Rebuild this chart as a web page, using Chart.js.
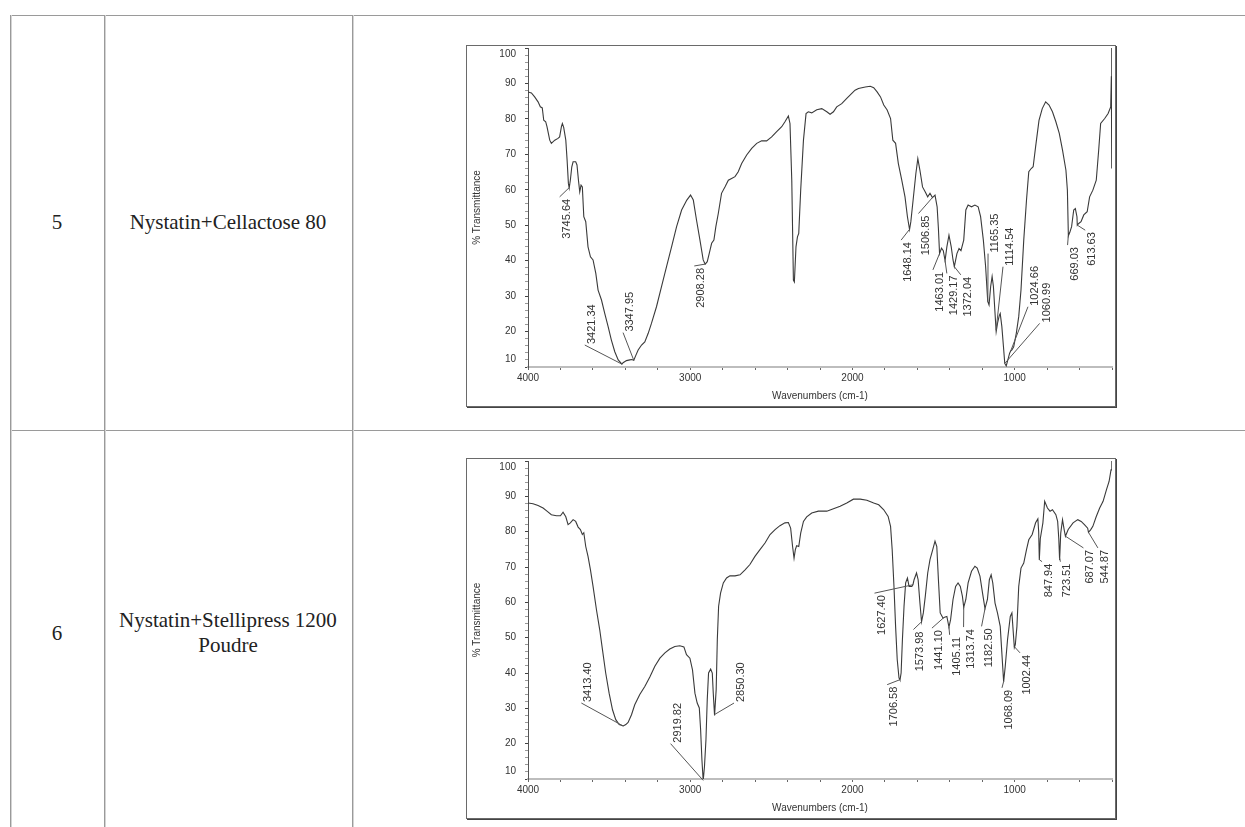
<!DOCTYPE html>
<html>
<head>
<meta charset="utf-8">
<script src="https://cdn.jsdelivr.net/npm/chart.js@4.4.1/dist/chart.umd.min.js"></script>
<style>
  body { margin: 0; width: 1245px; height: 827px; background: #fff; overflow: hidden; position: relative; }
  .hl { position: absolute; left: 10px; right: 0; height: 0; border-top: 1px solid #9a9a9a; }
  .vl { position: absolute; top: 15px; bottom: 0; width: 0; border-left: 1px solid #9a9a9a; box-shadow: 1px 0 0 #d4d4d4; }
  .cell { position: absolute; display: flex; align-items: center; justify-content: center; text-align: center;
          font-family: "Liberation Serif", "Times New Roman", serif; font-size: 21px; line-height: 25px; color: #222; }
  .frame { position: absolute; left: 466px; width: 648px; border: 1px solid #6a6a6a; box-shadow: 1px 1px 0 #444; background: #fff; }
  .frame canvas { display: block; }
</style>
</head>
<body>

<div class="hl" style="top:15px"></div>
<div class="hl" style="top:430px"></div>
<div class="vl" style="left:10px"></div>
<div class="vl" style="left:104px"></div>
<div class="vl" style="left:352px"></div>

<div class="cell" style="left:10px;width:94px;top:15px;height:415px">5</div>
<div class="cell" style="left:104px;width:248px;top:15px;height:415px">Nystatin+Cellactose 80</div>
<div class="cell" style="left:10px;width:94px;top:430px;height:406px">6</div>
<div class="cell" style="left:104px;width:248px;top:430px;height:406px">Nystatin+Stellipress 1200<br>Poudre</div>

<div class="frame" style="top:45px;height:360px"><canvas id="chart5" width="648" height="360"></canvas></div>
<div class="frame" style="top:458px;height:359px"><canvas id="chart6" width="648" height="359"></canvas></div>

<script>
// axis labels
const xTickLabels = [4000, 3000, 2000, 1000];
const yTickLabels = [10, 20, 30, 40, 50, 60, 70, 80, 90, 100];

// spectrum 5 : Nystatin+Cellactose 80
const wavenumbers5 = [4000, 3979, 3959, 3938, 3924, 3912, 3903, 3891, 3883, 3866, 3856, 3835, 3815, 3805, 3794, 3788, 3780, 3767, 3759, 3751,
  3746, 3739, 3730, 3722, 3706, 3698, 3689, 3681, 3673, 3665, 3656, 3644, 3630, 3615, 3599, 3582, 3568, 3547, 3527, 3506,
  3486, 3465, 3444, 3421, 3414, 3393, 3372, 3360, 3348, 3336, 3321, 3300, 3280, 3259, 3239, 3208, 3177, 3146, 3115, 3084,
  3053, 3021, 2998, 2981, 2961, 2940, 2920, 2908, 2895, 2883, 2868, 2854, 2842, 2827, 2807, 2786, 2765, 2745, 2724, 2704,
  2683, 2652, 2621, 2590, 2560, 2529, 2498, 2467, 2436, 2416, 2395, 2385, 2374, 2364, 2358, 2348, 2339, 2331, 2319, 2302,
  2286, 2272, 2251, 2220, 2189, 2158, 2138, 2117, 2097, 2066, 2035, 2004, 1984, 1963, 1921, 1890, 1869, 1848, 1827, 1807,
  1786, 1765, 1751, 1734, 1717, 1696, 1676, 1661, 1648, 1640, 1626, 1609, 1597, 1584, 1568, 1551, 1536, 1522, 1507, 1491,
  1478, 1470, 1463, 1451, 1440, 1429, 1418, 1405, 1391, 1380, 1372, 1356, 1343, 1331, 1314, 1301, 1287, 1266, 1245, 1225,
  1210, 1193, 1179, 1166, 1158, 1148, 1139, 1131, 1121, 1114, 1105, 1095, 1089, 1079, 1069, 1061, 1052, 1042, 1031, 1025,
  1017, 1006, 990, 975, 961, 944, 927, 913, 898, 886, 871, 850, 830, 809, 788, 767, 746, 725, 705, 684,
  675, 669, 660, 649, 636, 626, 616, 614, 605, 591, 574, 553, 538, 518, 497, 482, 470, 445, 424, 408,
  404, 402, 401];
const transmittance5 = [87.6, 87.3, 86.2, 84.8, 83.4, 83.1, 79.6, 79.2, 77.8, 74.0, 73.1, 74.0, 74.5, 74.9, 77.8, 78.7, 77.6, 74.0, 68.4, 61.8,
  60.5, 62.7, 66.5, 67.9, 67.9, 67.0, 62.7, 59.4, 61.3, 60.8, 52.4, 51.0, 43.9, 41.1, 40.2, 36.4, 31.7, 28.9, 25.1, 21.4,
  17.6, 14.3, 12.0, 10.8, 11.2, 11.8, 12.0, 12.1, 11.9, 13.2, 14.8, 16.2, 17.1, 19.5, 22.3, 27.0, 32.7, 38.3, 43.9, 49.6,
  54.3, 57.1, 58.5, 57.1, 51.4, 45.8, 40.2, 39.0, 39.7, 42.0, 44.9, 45.8, 49.6, 53.3, 59.0, 60.8, 62.7, 63.2, 63.7, 65.1,
  67.4, 69.8, 71.7, 73.1, 73.8, 73.8, 74.9, 76.4, 77.8, 79.2, 80.8, 78.7, 62.7, 34.5, 34.0, 43.9, 46.7, 47.7, 59.9, 74.0,
  81.5, 82.0, 81.7, 82.6, 82.9, 82.0, 81.3, 82.0, 83.4, 84.3, 85.8, 87.2, 88.1, 88.6, 89.0, 89.2, 88.8, 87.6, 86.2, 83.9,
  82.5, 80.1, 74.0, 73.1, 67.4, 62.7, 58.0, 52.4, 48.8, 51.0, 57.1, 64.6, 68.8, 65.5, 60.8, 59.4, 58.0, 59.0, 57.8, 58.5,
  55.2, 49.0, 42.0, 43.5, 42.8, 40.0, 43.9, 47.2, 43.9, 40.2, 38.3, 42.0, 43.4, 42.8, 45.8, 54.3, 55.7, 55.2, 55.7, 55.2,
  52.4, 45.8, 38.3, 28.5, 27.5, 32.7, 35.5, 32.7, 25.1, 20.0, 22.5, 24.5, 25.1, 21.4, 15.7, 11.0, 10.3, 12.0, 13.9, 14.5,
  14.8, 15.7, 19.5, 24.2, 31.7, 45.8, 57.1, 65.1, 66.0, 66.5, 72.1, 79.6, 82.9, 84.8, 83.9, 82.0, 79.2, 75.9, 71.2, 65.5,
  59.9, 47.0, 48.0, 49.6, 54.3, 54.7, 52.4, 50.0, 50.5, 51.0, 52.9, 53.8, 58.0, 59.9, 62.7, 71.2, 78.7, 80.1, 81.5, 83.4,
  92.0, 100.0, 66.0];
const peaks5 = ['3745.64', '3421.34', '3347.95', '2908.28', '1648.14', '1506.85', '1463.01', '1429.17', '1372.04',
  '1165.35', '1114.54', '1024.66', '1060.99', '669.03', '613.63'];
const labelWn5 = [3805, 3650, 3414, 2975, 1700, 1593, 1504, 1418, 1332, 1164, 1072, 918, 846, 674, 565];
const labelT5 = [58.0, 16.2, 19.7, 38.5, 45.8, 53.3, 37.4, 36.4, 36.0, 42.0, 38.3, 27.0, 22.3, 44.4, 48.6];

// spectrum 6 : Nystatin+Stellipress 1200 Poudre
const wavenumbers6 = [4000, 3969, 3938, 3907, 3883, 3856, 3825, 3800, 3784, 3767, 3753, 3739, 3722, 3706, 3691, 3677, 3665, 3656, 3644, 3630,
  3615, 3599, 3578, 3558, 3541, 3521, 3500, 3479, 3459, 3438, 3413, 3397, 3383, 3362, 3342, 3311, 3280, 3249, 3218, 3187,
  3156, 3126, 3095, 3064, 3039, 3023, 3002, 2986, 2971, 2957, 2944, 2936, 2928, 2920, 2912, 2903, 2895, 2887, 2874, 2864,
  2858, 2850, 2840, 2833, 2825, 2813, 2796, 2776, 2755, 2724, 2693, 2662, 2632, 2601, 2570, 2539, 2508, 2477, 2447, 2416,
  2395, 2381, 2369, 2360, 2352, 2344, 2331, 2319, 2302, 2282, 2251, 2210, 2158, 2117, 2076, 2035, 1994, 1952, 1911, 1869,
  1838, 1807, 1780, 1765, 1755, 1744, 1734, 1724, 1713, 1707, 1700, 1692, 1682, 1672, 1661, 1651, 1634, 1627, 1620, 1605,
  1595, 1584, 1574, 1563, 1551, 1536, 1522, 1505, 1491, 1480, 1470, 1459, 1447, 1441, 1432, 1418, 1405, 1395, 1380, 1364,
  1349, 1335, 1322, 1314, 1301, 1287, 1266, 1245, 1231, 1214, 1198, 1183, 1168, 1156, 1145, 1135, 1121, 1106, 1089, 1079,
  1068, 1058, 1044, 1027, 1017, 1002, 996, 986, 975, 961, 944, 927, 913, 892, 871, 857, 852, 848, 842, 826,
  815, 798, 782, 767, 746, 735, 728, 723, 716, 705, 695, 687, 670, 640, 611, 590, 570, 550, 545, 532,
  518, 497, 476, 455, 434, 418, 406, 401];
const transmittance6 = [88.1, 87.9, 87.4, 86.7, 85.8, 84.8, 84.5, 84.5, 85.5, 84.2, 82.0, 82.5, 83.4, 82.9, 81.3, 80.6, 79.2, 79.7, 75.8, 73.0,
  69.2, 64.5, 57.9, 52.3, 46.6, 40.0, 34.3, 29.6, 26.8, 25.4, 25.0, 25.4, 26.0, 28.2, 31.0, 33.9, 36.2, 38.9, 41.9, 44.2,
  45.7, 46.8, 47.5, 47.7, 47.4, 45.2, 44.2, 40.9, 34.3, 31.5, 30.1, 24.0, 15.5, 9.5, 13.6, 21.1, 32.5, 40.0, 41.1, 40.0,
  34.3, 28.0, 35.3, 49.4, 58.9, 62.6, 65.5, 66.9, 67.5, 67.5, 67.8, 69.2, 70.7, 73.0, 74.9, 76.8, 79.2, 80.6, 81.7, 82.5,
  82.6, 81.0, 75.8, 72.5, 74.9, 76.0, 75.8, 79.6, 82.9, 84.2, 85.3, 85.8, 85.8, 86.5, 87.2, 88.1, 89.2, 89.2, 88.9, 88.1,
  87.6, 86.2, 84.3, 81.5, 74.9, 64.5, 53.2, 43.8, 38.6, 38.0, 40.0, 49.4, 58.9, 65.5, 66.9, 64.5, 64.5, 65.0, 66.4, 68.3,
  66.4, 59.8, 54.5, 57.0, 61.7, 68.3, 72.1, 74.9, 77.3, 75.8, 66.4, 57.0, 56.0, 55.5, 55.8, 56.0, 53.0, 55.1, 60.8, 64.5,
  65.5, 64.5, 61.7, 58.6, 60.8, 65.5, 68.8, 70.2, 69.7, 67.4, 62.6, 58.2, 60.8, 66.4, 67.8, 65.5, 59.8, 57.0, 53.2, 45.7,
  37.5, 41.9, 49.4, 56.0, 57.0, 47.2, 48.0, 53.2, 64.5, 69.7, 71.1, 74.9, 77.7, 79.2, 82.5, 83.6, 80.0, 72.0, 78.0, 82.5,
  88.6, 86.7, 85.8, 86.2, 84.8, 82.9, 78.0, 72.0, 79.6, 83.4, 80.6, 78.7, 80.6, 82.5, 83.4, 82.9, 82.0, 81.0, 79.8, 80.5,
  81.5, 84.3, 86.7, 88.6, 91.9, 94.2, 97.5, 100.0];
const peaks6 = ['3413.40', '2919.82', '2850.30', '1627.40', '1706.58', '1573.98', '1441.10', '1405.11', '1313.74',
  '1182.50', '1068.09', '1002.44', '847.94', '723.51', '687.07', '544.87'];
const labelWn6 = [3671, 3121, 2730, 1864, 1786, 1624, 1510, 1401, 1315, 1204, 1078, 967, 831, 718, 576, 487];
const labelT6 = [31.5, 20.0, 31.5, 62.6, 36.7, 52.3, 52.7, 50.8, 53.0, 53.2, 35.8, 45.7, 71.5, 71.5, 75.4, 75.4];

const FONT = '"Liberation Sans", Arial, sans-serif';
const INK = '#333';

// value of the spectrum at a wavenumber (arrays run from high to low wavenumber)
function valueAt(wn, tr, w) {
    for (var i = 0; i < wn.length - 1; i++) {
        if (w <= wn[i] && w >= wn[i + 1]) {
            var t = (wn[i] - w) / (wn[i] - wn[i + 1] || 1);
            return tr[i] + t * (tr[i + 1] - tr[i]);
        }
    }
    return tr[tr.length - 1];
}

// y tick labels (kept inside the plot like the instrument software) + peak labels
const peakPlugin = {
    id: 'peaks',
    afterDraw(chart, args, opts) {
        const ctx = chart.ctx;
        const x = chart.scales.x, y = chart.scales.y, area = chart.chartArea;
        ctx.save();
        ctx.fillStyle = INK;
        ctx.font = '10px ' + FONT;
        ctx.textAlign = 'right';
        ctx.textBaseline = 'middle';
        yTickLabels.forEach(function (v) {
            var py = y.getPixelForValue(v);
            py = Math.min(Math.max(py, area.top + 6), area.bottom - 8);
            ctx.fillText(String(v), y.right - 12, py);
        });

        ctx.strokeStyle = '#555';
        ctx.lineWidth = 1;
        ctx.font = '11px ' + FONT;
        opts.peaks.forEach(function (p, i) {
            var w = parseFloat(p);
            var px = x.getPixelForValue(w);
            var py = y.getPixelForValue(valueAt(opts.wn, opts.tr, w));
            var ax = x.getPixelForValue(opts.labelWn[i]);
            var ay = y.getPixelForValue(opts.labelT[i]);
            ctx.beginPath();
            ctx.moveTo(px, py);
            ctx.lineTo(ax, ay);
            ctx.stroke();

            var above = ay < py;
            ctx.save();
            ctx.translate(ax + 7, above ? ay - 1 : ay + 2);
            ctx.rotate(-Math.PI / 2);
            ctx.textAlign = above ? 'left' : 'right';
            ctx.textBaseline = 'middle';
            ctx.fillText(p, 0, 0);
            ctx.restore();
        });
        ctx.restore();
    }
};

function renderSpectrum(id, wn, tr, peaks, labelWn, labelT) {
    const points = wn.map(function (w, i) { return { x: w, y: tr[i] }; });
    new Chart(document.getElementById(id), {
        type: 'line',
        data: {
            datasets: [{
                data: points,
                borderColor: '#3a3a3a',
                borderWidth: 1.1,
                pointRadius: 0,
                tension: 0,
                fill: false
            }]
        },
        options: {
            responsive: false,
            animation: false,
            events: [],
            layout: { padding: { top: 2, right: 3, left: 0, bottom: 0 } },
            plugins: {
                legend: { display: false },
                tooltip: { enabled: false },
                peaks: { peaks: peaks, labelWn: labelWn, labelT: labelT, wn: wn, tr: tr }
            },
            scales: {
                x: {
                    type: 'linear',
                    reverse: true,
                    min: 400,
                    max: 4000,
                    afterFit: function (s) { s.height = 39; },
                    ticks: {
                        stepSize: 200,
                        autoSkip: false,
                        maxRotation: 0,
                        padding: 2,
                        color: INK,
                        font: { family: FONT, size: 10 },
                        callback: function (v) { return xTickLabels.includes(v) ? String(v) : ''; }
                    },
                    grid: { drawOnChartArea: false, drawTicks: true, tickLength: 3, color: '#666' },
                    border: { color: '#bdbdbd', width: 2 },
                    title: { display: true, text: 'Wavenumbers (cm-1)', color: INK, font: { family: FONT, size: 10 }, padding: { top: 0, bottom: 4 } }
                },
                y: {
                    min: 10,
                    max: 100,
                    afterFit: function (s) { s.width = 61; },
                    ticks: { stepSize: 2, autoSkip: false, display: false },
                    grid: {
                        drawOnChartArea: false,
                        drawTicks: true,
                        tickLength: 3,
                        color: function (c) { return c.tick && c.tick.value % 10 === 0 ? '#444' : '#999'; }
                    },
                    border: { color: '#555', width: 1 },
                    title: { display: true, text: '% Transmittance', color: INK, font: { family: FONT, size: 10 }, padding: { top: 4, bottom: 0 } }
                }
            }
        },
        plugins: [peakPlugin]
    });
}

renderSpectrum('chart5', wavenumbers5, transmittance5, peaks5, labelWn5, labelT5);
renderSpectrum('chart6', wavenumbers6, transmittance6, peaks6, labelWn6, labelT6);
</script>
</body>
</html>
